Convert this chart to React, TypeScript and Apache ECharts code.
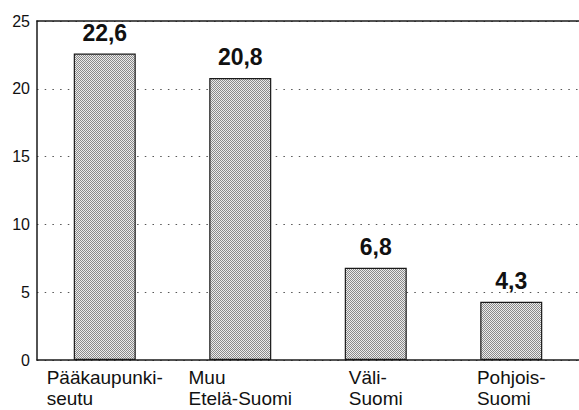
import React, { useEffect, useRef } from "react";
import * as echarts from "echarts";

const categories = ["Pääkaupunki-\nseutu", "Muu\nEtelä-Suomi", "Väli-\nSuomi", "Pohjois-\nSuomi"];
const values = [22.6, 20.8, 6.8, 4.3];
const yTicks = { min: 0, max: 25, interval: 5 };

const FONT = "'Liberation Sans', Arial, Helvetica, sans-serif";

function makePattern() {
  const c = document.createElement("canvas");
  c.width = 2;
  c.height = 2;
  const ctx = c.getContext("2d")!;
  ctx.fillStyle = "#ececec";
  ctx.fillRect(0, 0, 2, 2);
  ctx.fillStyle = "#8a8a8a";
  ctx.fillRect(0, 0, 1, 1);
  ctx.fillRect(1, 1, 1, 1);
  return { image: c, repeat: "repeat", imageWidth: 2, imageHeight: 2 } as any;
}

export default function App() {
  const ref = useRef<HTMLDivElement>(null);
  useEffect(() => {
    if (!ref.current) return;
    const chart = echarts.init(ref.current, null, { renderer: "svg" });
    const axisLineStyle = { color: "#1a1a1a", width: 1.5 };
    chart.setOption({
      animation: false,
      backgroundColor: "#ffffff",
      grid: { left: 37, top: 21, width: 548, height: 339 },
      xAxis: [
        {
          type: "category",
          data: categories,
          position: "bottom",
          axisLine: { show: true, lineStyle: axisLineStyle },
          axisTick: { show: false },
          axisLabel: {
            margin: 7,
            interval: 0,
            formatter: (v: string) => v.split("\n").map((l) => `{l|${l}}`).join("\n"),
            rich: {
              l: {
                align: "left",
                fontSize: 19,
                lineHeight: 21,
                fontFamily: FONT,
                color: "#111",
              },
            },
          },
        },
        {
          type: "category",
          data: categories,
          position: "top",
          axisLine: { show: true, lineStyle: axisLineStyle },
          axisTick: { show: false },
          axisLabel: { show: false },
        },
      ],
      yAxis: {
        type: "value",
        min: yTicks.min,
        max: yTicks.max,
        interval: yTicks.interval,
        axisLine: { show: true, lineStyle: axisLineStyle },
        axisTick: { show: false },
        axisLabel: { fontSize: 16, fontFamily: FONT, color: "#111", margin: 7 },
        splitLine: {
          show: true,
          lineStyle: { color: "#555", width: 1.2, type: [1.5, 6.2] },
        },
      },
      series: [
        {
          type: "bar",
          xAxisIndex: 0,
          data: values,
          barWidth: 62,
          itemStyle: {
            color: makePattern(),
            borderColor: "#1a1a1a",
            borderWidth: 1.2,
          },
          label: {
            show: true,
            position: "top",
            distance: 9,
            fontSize: 23,
            fontWeight: "bold",
            fontFamily: FONT,
            color: "#111",
            formatter: (p: any) => String(p.value).replace(".", ","),
          },
        },
      ],
    });
    return () => chart.dispose();
  }, []);
  return (
    <div
      ref={ref}
      style={{ position: "fixed", left: 0, top: 0, width: 579, height: 410, background: "#fff" }}
    />
  );
}
